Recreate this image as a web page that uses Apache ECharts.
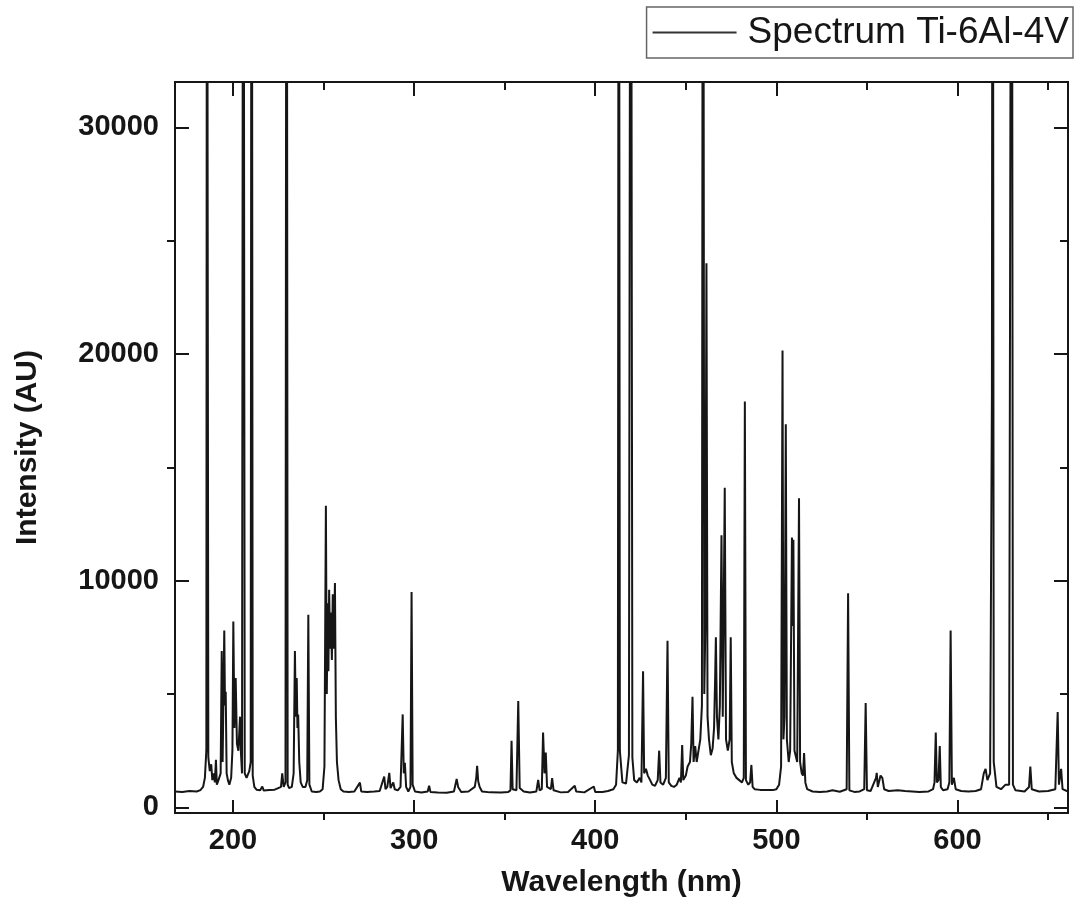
<!DOCTYPE html>
<html>
<head>
<meta charset="utf-8">
<script src="https://cdn.jsdelivr.net/npm/echarts@6/dist/echarts.min.js"></script>
<style>
  html, body { margin: 0; padding: 0; background: #fff; }
  #chart { width: 1075px; height: 903px; }
</style>
</head>
<body>
<div id="chart"></div>
<script>
// wavelength (nm) and intensity (AU)
// peaks that run off the top of the frame are given 60000 and get clipped
var wavelength = [
  168, 172, 176, 180, 182, 183.5, 184.5, 185.3, 185.7, 186.0, 186.4, 187.2, 188.0, 188.6, 189.3, 190.0,
  190.6, 191.1, 192.0, 193.2, 193.8, 194.3, 195.2, 195.6, 196.0, 196.5, 197.2, 198.0, 199.0, 199.7,
  200.2, 200.8, 201.5, 202.2, 203.0, 203.9, 204.4, 205.0, 205.7, 206.5, 207.5, 209.0, 209.8, 210.3,
  210.9, 211.8, 213, 215, 216.2, 217, 220, 223, 225, 226.5, 227.2, 228, 229.0, 229.6, 230.2, 231.0,
  232.5, 233.5, 234.2, 234.7, 235.2, 235.6, 236.0, 236.6, 237.4, 238.5, 240.0, 241.0, 241.6, 242.2,
  243.5, 246, 248, 249.5, 250.5, 251.3, 251.8, 252.3, 252.7, 253.1, 253.6, 254.1, 254.6, 255.1, 255.6,
  256.3, 256.8, 257.4, 258.3, 259.5, 261, 264, 267, 270.1, 270.8, 274, 278, 281, 283.5, 284.2, 285.2,
  286.3, 287, 288.5, 289.3, 291, 292.5, 293.7, 294.3, 294.9, 295.6, 296.8, 298.0, 298.6, 299.2, 300.5,
  304, 307.5, 308.3, 309, 313, 318, 322, 323.5, 324.3, 326, 330, 333.5, 334.3, 334.8, 335.4, 336.2,
  337.5, 342, 348, 352, 353.2, 353.8, 354.4, 356.5, 357.5, 358.3, 360.5, 364, 367.5, 368.5, 369.3,
  370.5, 371.2, 372.0, 372.7, 373.4, 375.5, 376.2, 377, 381, 385, 388.7, 389.5, 394, 399.2, 400, 404,
  407, 410, 411.5, 412.5, 413.0, 413.6, 415, 417, 418.6, 419.6, 420.5, 421.5, 423, 424.5, 425.5, 426.4,
  427.0, 428, 429, 430.3, 431.5, 433, 434.5, 435.3, 436, 437.5, 439.0, 439.9, 440.6, 442, 443.5, 445,
  446.5, 447.3, 448.0, 448.6, 450, 451, 452.3, 453.0, 453.7, 454.3, 455.2, 456.0, 457.0, 458.0, 458.9,
  459.5, 460.2, 460.8, 461.4, 462.0, 462.8, 463.8, 464.8, 465.6, 466.2, 466.6, 467.2, 468.0, 468.8,
  469.7, 470.4, 471.5, 472.2, 473.2, 474.2, 474.8, 475.4, 476.5, 478, 479.5, 481, 482.0, 482.6, 483.2,
  484.5, 485.5, 486.2, 486.9, 488, 491, 495, 498, 500, 501.5, 502.6, 503.4, 503.9, 504.5, 505.2, 505.8,
  506.8, 507.6, 508.6, 509.0, 509.4, 510.0, 511.5, 512.5, 513.1, 514.0, 514.7, 515.3, 516.0, 517.0,
  520, 524, 528, 531, 535, 538.8, 539.6, 540.3, 543, 546, 548.5, 549.3, 550, 552, 555.0, 555.4, 556.0,
  557.5, 558.5, 559.5, 562, 567, 571, 575, 579, 584, 586.5, 587.3, 588.0, 588.6, 589.5, 590.2, 590.8,
  592, 594.5, 595.5, 596.2, 596.9, 598, 599, 602, 606, 610, 613, 614.5, 615.5, 616.5, 618.0, 619.0,
  619.4, 620.0, 621.5, 624, 626.5, 628.5, 629.9, 630.6, 632, 637, 639.5, 640.2, 641, 645, 650, 654,
  655.3, 656.0, 657.2, 658, 661
];
var intensity = [
  700, 680, 720, 700, 760, 900, 1300, 2500, 60000, 29000, 2200, 1600, 1900, 1200, 1500, 1100,
  2100, 1000, 1200, 1500, 6900, 2000, 7800, 4500, 5100, 1500, 1200, 1000, 1300, 2500,
  8200, 3500, 5700, 2800, 2500, 4000, 2400, 1500, 60000, 1500, 1300, 1600, 2000, 60000,
  1400, 900, 780, 750, 920, 740, 760, 780, 850, 900, 1500, 900, 1100, 60000, 1000, 850,
  900, 1500, 6900, 4000, 5700, 3500, 4100, 2000, 1100, 900, 900, 1200, 8500, 1000,
  700, 680, 700, 800, 1800, 13300, 5000, 9000, 6000, 9600, 7000, 8600, 6500, 9400, 7000,
  9900, 4000, 2000, 1200, 800, 700, 680, 700, 1090, 700, 680, 700, 720, 1360, 800, 900,
  1520, 850, 1100, 800, 750, 900, 4100, 1500, 1960, 900, 700, 900, 9500, 1000, 700,
  650, 700, 950, 680, 650, 640, 700, 1250, 900, 680, 700, 900, 1300, 1830, 1150, 900,
  700, 660, 650, 680, 750, 2940, 800, 750, 4690, 850, 700, 650, 700, 1210, 750,
  800, 3300, 1500, 2420, 900, 800, 1290, 750, 660, 680, 950, 700, 660, 920, 680, 680,
  720, 800, 1000, 2500, 60000, 2500, 1100, 1050, 2300, 60000, 2200, 1200, 1100, 1300, 1100, 6000,
  1500, 1700, 1400, 1200, 1000, 950, 1200, 2500, 1100, 1000, 1300, 7350, 1100, 950, 900, 1000,
  1300, 1100, 2750, 1200, 1400, 1800, 2000, 2800, 4880, 2000, 2700, 2000, 2500, 3000, 4500,
  60000, 5000, 8000, 24000, 4000, 3000, 2300, 2600, 3500, 5700, 7500, 4000, 3000, 4500,
  12000, 4000, 14100, 3000, 2500, 3000, 7500, 2000, 1500, 1300, 1200, 1100, 1300, 17900, 1200,
  1000, 1100, 1870, 900, 800, 770, 760, 760, 800, 1000, 1800, 20150, 3000, 4000, 16900, 3000,
  2000, 2500, 11900, 8000, 11800, 2500, 2000, 13640, 2000, 1500, 1400, 2400, 1100, 800,
  700, 680, 700, 750, 690, 800, 9450, 750, 680, 700, 800, 4600, 750, 720, 1300, 1520, 900,
  1400, 1300, 800, 720, 750, 720, 700, 680, 700, 800, 1100, 3300, 1100, 1200, 2700, 900,
  750, 800, 1100, 7800, 1000, 1300, 800, 720, 700, 720, 800, 1500, 1700, 1200, 1500, 18300,
  60000, 2000, 900, 800, 1000, 1000, 60000, 1000, 750, 700, 900, 1800, 800, 700, 720, 800,
  4200, 1000, 1700, 800, 700
];

var xMajor = [200, 300, 400, 500, 600];
var xMinor = [250, 350, 450, 550, 650];
var yMajor = [0, 10000, 20000, 30000];
var yMinor = [5000, 15000, 25000];

var spectrum = [];
for (var i = 0; i < wavelength.length; i++) {
  spectrum.push([wavelength[i], intensity[i]]);
}

var ink = '#161616';
var font = 'Liberation Sans, Arial, sans-serif';

function frameAxis(pos, ticks, len, inside, labels) {
  var horiz = (pos == 'bottom' || pos == 'top');
  return {
    type: 'value',
    position: pos,
    min: horiz ? 168 : -250,
    max: horiz ? 661 : 32000,
    axisLine: { show: true, onZero: false, lineStyle: { color: ink, width: 2 } },
    axisTick: { show: true, inside: inside, length: len, customValues: ticks, lineStyle: { color: ink, width: 2 } },
    axisLabel: labels ? {
      show: true, customValues: ticks, color: ink, fontFamily: font, fontWeight: 'bold', fontSize: 29,
      margin: pos == 'bottom' ? 13 : 16,
      formatter: function (v) { return String(v); }
    } : { show: false },
    splitLine: { show: false }
  };
}

var xMain = frameAxis('bottom', xMajor, 13, true, true);
xMain.name = 'Wavelength (nm)';
xMain.nameLocation = 'middle';
xMain.nameGap = 55;
xMain.nameTextStyle = { color: ink, fontFamily: font, fontWeight: 'bold', fontSize: 30 };

var yMain = frameAxis('left', yMajor, 14, true, true);
yMain.name = 'Intensity (AU)';
yMain.nameLocation = 'middle';
yMain.nameGap = 132;
yMain.nameTextStyle = { color: ink, fontFamily: font, fontWeight: 'bold', fontSize: 30 };

var chart = echarts.init(document.getElementById('chart'), null, { renderer: 'canvas' });
chart.setOption({
  animation: false,
  backgroundColor: '#fff',
  grid: { left: 175, right: 7, top: 82, bottom: 90 },
  legend: {
    right: 2,
    top: 7,
    data: [{ name: 'Spectrum Ti-6Al-4V', icon: 'rect' }],
    itemWidth: 84,
    itemHeight: 2,
    itemGap: 10,
    padding: [7, 4, 7, 6],
    borderColor: '#666',
    borderWidth: 1.5,
    textStyle: { color: ink, fontFamily: font, fontSize: 37, padding: [0, 0, 0, 6] }
  },
  xAxis: [
    xMain,
    frameAxis('bottom', xMinor, 7, false, false),
    frameAxis('top', xMajor, 14, true, false),
    frameAxis('top', xMinor, 8, true, false)
  ],
  yAxis: [
    yMain,
    frameAxis('left', yMinor, 8, false, false),
    frameAxis('right', yMajor, 14, true, false),
    frameAxis('right', yMinor, 8, true, false)
  ],
  series: [{
    name: 'Spectrum Ti-6Al-4V',
    type: 'line',
    data: spectrum,
    symbol: 'none',
    clip: true,
    lineStyle: { color: ink, width: 2 },
    itemStyle: { color: '#333' }
  }]
});
</script>
</body>
</html>
